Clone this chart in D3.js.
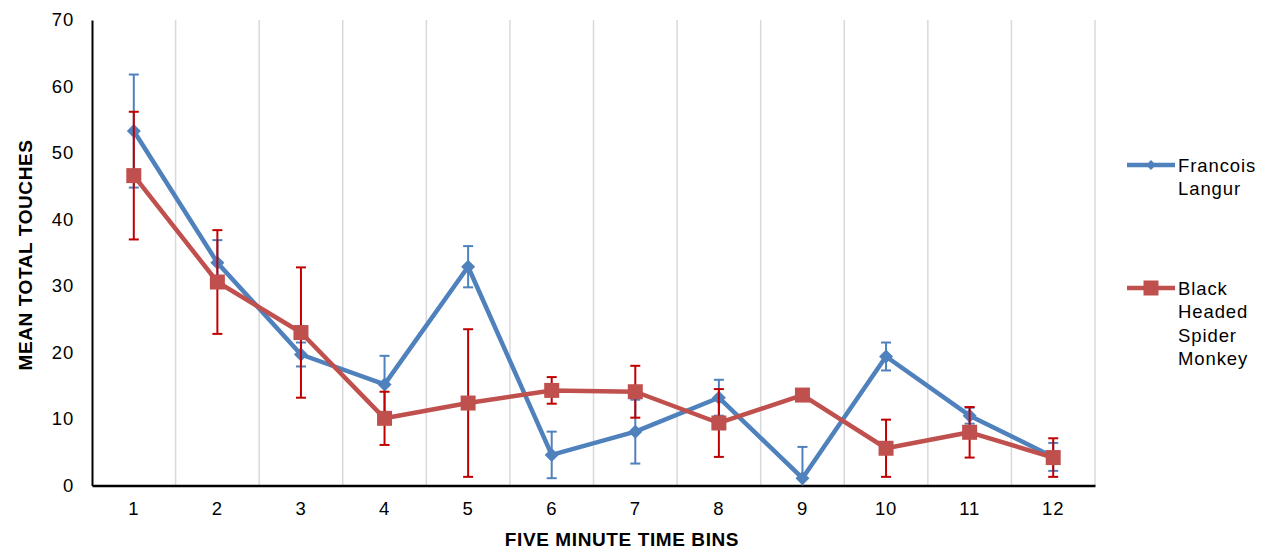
<!DOCTYPE html>
<html>
<head>
<meta charset="utf-8">
<script src="https://cdn.jsdelivr.net/npm/d3@7"></script>
<style>
  body { margin: 0; background: #fff; }
  svg { display: block; font-family: "Liberation Sans", Arial, sans-serif; }
</style>
</head>
<body>
<svg id="chart" width="1271" height="550"></svg>
<script>
// five minute bins
const bins = [1, 2, 3, 4, 5, 6, 7, 8, 9, 10, 11, 12];

// Francois Langur
const langurMean = [53.3, 33.5, 19.7, 15.2, 32.9, 4.6, 8.1, 13.2, 1.1, 19.4, 10.5, 4.3];
const langurErr  = [8.5, 3.4, 1.8, 4.3, 3.1, 3.5, 4.8, 2.7, 4.7, 2.1, 1.2, 2.1];

// Black Headed Spider Monkey
const monkeyMean = [46.6, 30.6, 23.0, 10.1, 12.4, 14.3, 14.1, 9.4, 13.6, 5.6, 8.0, 4.2];
const monkeyErr  = [9.6, 7.8, 9.8, 4.0, 11.1, 2.0, 3.9, 5.1, 0, 4.3, 3.8, 2.9];

const yTicks = [0, 10, 20, 30, 40, 50, 60, 70];

const svg = d3.select('#chart');
const plotLeft = 92, plotRight = 1095, plotTop = 20, plotBottom = 485.5;

const x = d3.scaleBand().domain(bins).range([plotLeft, plotRight]).padding(0);
const y = d3.scaleLinear().domain([0, 70]).range([plotBottom, plotTop]);
const cx = d => x(d) + x.bandwidth() / 2;

// vertical gridlines between the bins
svg.append('g')
  .selectAll('line')
  .data(bins)
  .join('line')
    .attr('x1', d => x(d) + x.bandwidth())
    .attr('x2', d => x(d) + x.bandwidth())
    .attr('y1', plotTop)
    .attr('y2', plotBottom)
    .attr('stroke', '#d9d9d9')
    .attr('stroke-width', 1.5);

// axes
const yAxis = svg.append('g')
    .attr('transform', `translate(${plotLeft},0)`)
    .call(d3.axisLeft(y).tickValues(yTicks).tickSize(0).tickSizeOuter(0).tickPadding(18));

const xAxis = svg.append('g')
    .attr('transform', `translate(0,${plotBottom})`)
    .call(d3.axisBottom(x).tickSize(0).tickSizeOuter(0).tickPadding(16.5));

[yAxis, xAxis].forEach(g => {
  g.select('.domain').attr('stroke', '#000').attr('stroke-width', 2);
  g.selectAll('text')
      .attr('fill', '#000')
      .style('font-size', '18.5px')
      .style('letter-spacing', '0.8px');
});
xAxis.select('.domain').attr('stroke-width', 2.5);

// axis titles
svg.append('text')
    .attr('x', 622)
    .attr('y', 546)
    .attr('text-anchor', 'middle')
    .style('font-size', '19px')
    .style('font-weight', 'bold')
    .style('letter-spacing', '0.6px')
    .text('FIVE MINUTE TIME BINS');

svg.append('text')
    .attr('transform', 'translate(32,255) rotate(-90)')
    .attr('text-anchor', 'middle')
    .style('font-size', '19px')
    .style('font-weight', 'bold')
    .style('letter-spacing', '0.6px')
    .text('MEAN TOTAL TOUCHES');

const series = [
  {name: ['Francois', 'Langur'], mean: langurMean, err: langurErr,
   line: '#4f81bd', errColor: '#4f81bd', shape: 'diamond', legendY: 165},
  {name: ['Black', 'Headed', 'Spider', 'Monkey'], mean: monkeyMean, err: monkeyErr,
   line: '#c0504d', errColor: '#c00000', shape: 'square', legendY: 288}
];

function marker(sel, s) {
  if (s.shape === 'diamond') {
    sel.append('path')
        .attr('d', 'M0,-7L7,0L0,7L-7,0Z')
        .attr('fill', s.line);
  } else {
    sel.append('rect')
        .attr('x', -7.5).attr('y', -7.5)
        .attr('width', 15).attr('height', 15)
        .attr('fill', s.line);
  }
}

const line = d3.line().x(d => cx(d.bin)).y(d => y(d.v));

series.forEach(s => {
  const pts = bins.map((b, i) => ({bin: b, v: s.mean[i], e: s.err[i]}));
  const g = svg.append('g');

  g.append('path')
      .datum(pts)
      .attr('d', line)
      .attr('fill', 'none')
      .attr('stroke', s.line)
      .attr('stroke-width', 4.5)
      .attr('stroke-linejoin', 'round');

  // error bars (clipped at the x axis, as in the original)
  const eb = g.append('g')
      .attr('stroke', s.errColor)
      .attr('stroke-width', 2)
      .selectAll('g')
      .data(pts.filter(d => d.e > 0))
      .join('g');
  eb.append('line')
      .attr('x1', d => cx(d.bin)).attr('x2', d => cx(d.bin))
      .attr('y1', d => y(d.v + d.e)).attr('y2', d => y(Math.max(0, d.v - d.e)));
  eb.append('line')
      .attr('x1', d => cx(d.bin) - 5).attr('x2', d => cx(d.bin) + 5)
      .attr('y1', d => y(d.v + d.e)).attr('y2', d => y(d.v + d.e));
  eb.filter(d => d.v - d.e >= 0).append('line')
      .attr('x1', d => cx(d.bin) - 5).attr('x2', d => cx(d.bin) + 5)
      .attr('y1', d => y(d.v - d.e)).attr('y2', d => y(d.v - d.e));

  g.selectAll('g.pt')
      .data(pts)
      .join('g')
      .attr('class', 'pt')
      .attr('transform', d => `translate(${cx(d.bin)},${y(d.v)})`)
      .each(function () { marker(d3.select(this), s); });

  // legend entry
  const lg = svg.append('g').attr('transform', `translate(1127,${s.legendY})`);
  lg.append('line')
      .attr('x1', 0).attr('x2', 48)
      .attr('stroke', s.line)
      .attr('stroke-width', 4.5);
  const lm = lg.append('g').attr('transform', 'translate(24,0)');
  marker(lm, s);
  if (s.shape === 'diamond') lm.attr('transform', 'translate(24,0) scale(0.7)');
  lg.append('text')
      .attr('y', 7)
      .style('font-size', '18.5px')
      .style('letter-spacing', '0.9px')
      .selectAll('tspan')
      .data(s.name)
      .join('tspan')
      .attr('x', 51)
      .attr('dy', (d, i) => i === 0 ? 0 : 23.3)
      .text(d => d);
});
</script>
</body>
</html>
